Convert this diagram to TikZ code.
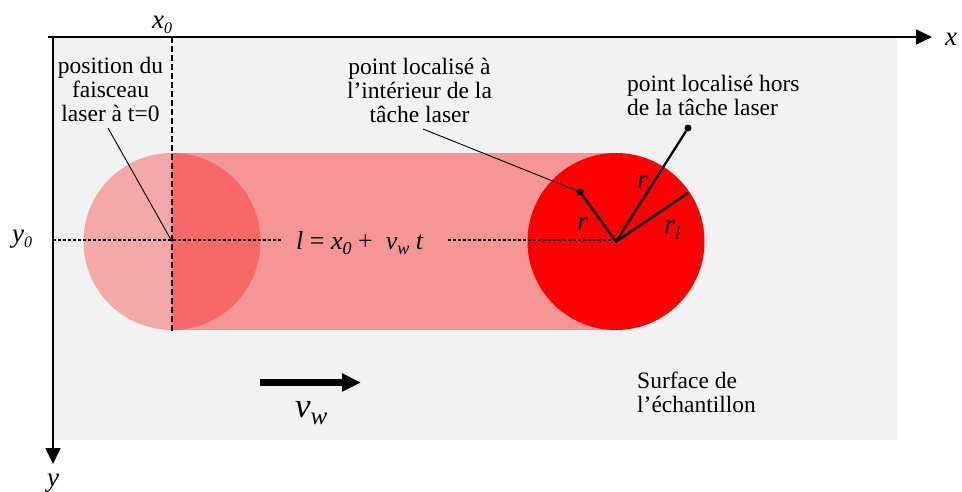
\documentclass[tikz,border=0pt]{standalone}
\usepackage{fontspec}
\setmainfont{Liberation Serif}
\usetikzlibrary{arrows.meta}
\newcommand{\mysub}[2][16]{\raisebox{-0.22em}{\fontsize{#1}{#1}\selectfont\itshape #2}}
\begin{document}
\begin{tikzpicture}[x=1pt,y=-1pt,
  lbl/.style={font=\fontsize{23.5}{24}\selectfont, align=center, inner sep=0pt},
  mathlbl/.style={font=\fontsize{27}{28}\selectfont\itshape, inner sep=0pt, anchor=base west},
  axis/.style={line width=1.6pt, -{Triangle[length=16pt,width=15pt]}},
  radius/.style={line width=2.3pt},
  callout/.style={line width=0.9pt},
  pt/.style={circle, fill=black, inner sep=0pt, minimum size=7pt}]
\useasboundingbox (0,0) rectangle (962,491);
% surface
\fill[gray!10] (53,37) rectangle (897,440);
% trail and spots
\coordinate (c0) at (172,241.5);
\coordinate (c1) at (616,241.5);
\fill[red, opacity=0.38] (172,153) rectangle (616,330);
\fill[red, opacity=0.3] (c0) circle (88.5);
\fill[red] (c1) circle (88.5);
% axes
\coordinate (O) at (53,37);
\coordinate (xend) at (932,37);
\coordinate (yend) at (53,464);
\draw[axis] (48,37) -- (xend);
\draw[axis] (O) -- (yend);
\node[mathlbl] (xl) at (945,45) {x};
\node[mathlbl] (yl) at (47,486) {y};
% x0 / y0
\coordinate (x0top) at (172,37);
\coordinate (x0bot) at (172,331);
\draw[line width=2.2pt, dash pattern=on 6pt off 3pt] (x0top) -- (x0bot);
\node[mathlbl] (x0l) at (152,28) {x\mysub{0}};
\node[mathlbl] (y0l) at (12,242) {y\mysub{0}};
\coordinate (y0a) at (53,240);
\coordinate (y0b) at (282,240);
\coordinate (y0c) at (448,240);
\coordinate (y0d) at (616,240);
\draw[line width=2.8pt, dash pattern=on 3pt off 2pt] (y0a) -- (y0b);
\draw[line width=2.8pt, dash pattern=on 3pt off 2pt] (y0c) -- (y0d);
\node[mathlbl, font=\fontsize{26}{28}\selectfont\itshape] (eq) at (296,249)
  {l\upshape{} = \itshape x\mysub[18]{0}\upshape{} +\ \ \itshape v\mysub[18]{w} t};
% labels
\node[lbl] (pos) at (110.5,89) {position du\\faisceau\\laser à t=0};
\draw[callout] (108,128) -- (c0);
\node[lbl] (pin) at (419.5,90.5) {point localisé à\\l’intérieur de la\\tâche laser};
\node[pt] (pa) at (580,192) {};
\draw[callout] (423,129) -- (pa);
\node[lbl, align=left, anchor=west] (pout) at (627,95.5) {point localisé hors\\de la tâche laser};
\node[pt] (pb) at (688,128) {};
\coordinate (edge) at (688,193);
\draw[radius] (pa) -- (c1) -- (pb);
\draw[radius] (c1) -- (edge);
\node[mathlbl, font=\fontsize{28}{28}\selectfont\itshape] (r1) at (577,230) {r};
\node[mathlbl, font=\fontsize{28}{28}\selectfont\itshape] (r2) at (637,188) {r};
\node[mathlbl, font=\fontsize{28}{28}\selectfont\itshape] (r3) at (664,233) {r\mysub[18]{l}};
% velocity
\coordinate (va) at (260,382.5);
\coordinate (vb) at (361,382.5);
\draw[line width=7pt, -{Triangle[length=19pt,width=17pt]}] (va) -- (vb);
\node[inner sep=0pt, anchor=base west, font=\fontsize{35}{36}\selectfont\itshape] (vw) at (295,417) {v\mysub[25]{w}};
\node[lbl, align=left, anchor=west] (surf) at (637,392) {Surface de\\l’échantillon};
\end{tikzpicture}
\end{document}
